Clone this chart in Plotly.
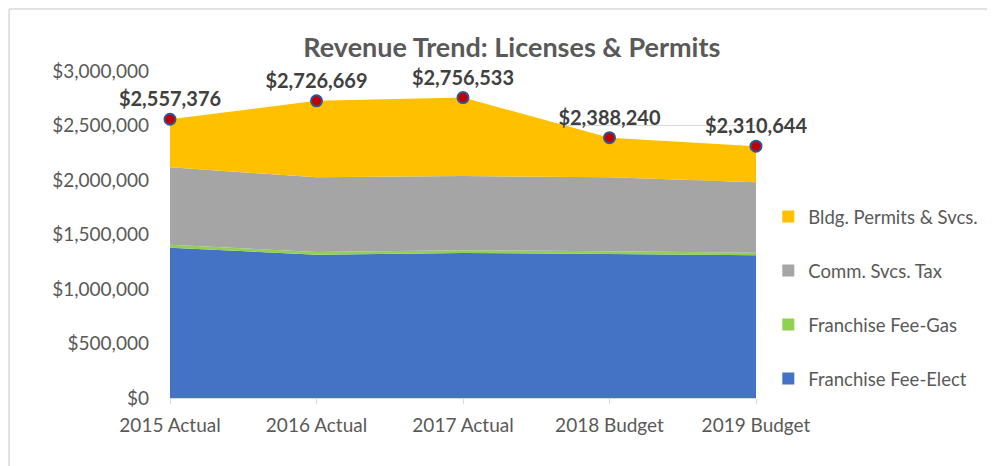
import plotly.graph_objects as go

years = ["2015 Actual", "2016 Actual", "2017 Actual", "2018 Budget", "2019 Budget"]
franchise_elect = [1379000, 1315000, 1330000, 1321000, 1309000]
franchise_gas = [26000, 24000, 25000, 25000, 24000]
comm_svcs_tax = [712000, 686000, 681000, 679000, 646000]
bldg_permits = [440376, 701669, 720533, 363240, 331644]
totals = [2557376, 2726669, 2756533, 2388240, 2310644]
y_ticks = [0, 500000, 1000000, 1500000, 2000000, 2500000, 3000000]
y_tick_labels = ["$0", "$500,000", "$1,000,000", "$1,500,000", "$2,000,000", "$2,500,000", "$3,000,000"]

series = [
    ("Franchise Fee-Elect", franchise_elect, "#4472c4"),
    ("Franchise Fee-Gas", franchise_gas, "#92d050"),
    ("Comm. Svcs. Tax", comm_svcs_tax, "#a5a5a5"),
    ("Bldg. Permits & Svcs.", bldg_permits, "#ffc000"),
]

FONT = "Lato, 'Open Sans', sans-serif"
fig = go.Figure()
for name, vals, col in series:
    fig.add_trace(go.Scatter(
        x=years, y=vals, name=name, stackgroup="s", mode="none",
        fillcolor=col, line=dict(width=0), showlegend=False,
        hoverinfo="x+y+name"))

# legend entries (square swatches), top to bottom
for name, vals, col in reversed(series):
    fig.add_trace(go.Scatter(
        x=[None], y=[None], name=name, mode="markers", legendgroup=name,
        marker=dict(symbol="square", size=12, color=col), showlegend=True))

fig.add_trace(go.Scatter(
    x=years, y=totals, mode="markers+text", showlegend=False,
    text=[f"${v:,.0f}" for v in totals], textposition="top center",
    textfont=dict(family=FONT, size=20, color="#404040", weight="bold"),
    marker=dict(size=11, color="#c00000", line=dict(color="#2f5597", width=2)),
    cliponaxis=False))

fig.update_layout(
    width=987, height=458,
    margin=dict(l=162, r=235, t=63, b=68),
    paper_bgcolor="white", plot_bgcolor="white",
    font=dict(family=FONT, color="#595959", size=19),
    title=dict(text="<b>Revenue Trend: Licenses & Permits</b>", x=0.5105, xanchor="center",
               y=0.914, yanchor="middle", font=dict(size=27, color="#595959", family=FONT)),
    legend=dict(x=1.021, xanchor="left", y=0.612, yanchor="top", traceorder="grouped",
                tracegroupgap=27, font=dict(size=18.5, color="#595959", family=FONT),
                itemwidth=30, bgcolor="rgba(0,0,0,0)"),
    xaxis=dict(type="category", range=[0, 4], showgrid=False, showline=True,
               linecolor="#d9d9d9", linewidth=1, ticks="outside", ticklen=5,
               tickcolor="#d9d9d9", tickfont=dict(size=19, color="#595959"),
               ticklabelstandoff=5, zeroline=False, fixedrange=True),
    yaxis=dict(range=[0, 3000000], tickvals=y_ticks, ticktext=y_tick_labels,
               showgrid=True, gridcolor="#d9d9d9", gridwidth=1, zeroline=False,
               showline=False, ticks="", ticklabelstandoff=20,
               tickfont=dict(size=19, color="#595959")),
    shapes=[
        dict(type="line", xref="paper", yref="paper", x0=-0.2746, x1=1.40, y0=1.1896, y1=1.1896,
             line=dict(color="#d9d9d9", width=1.5)),
        dict(type="line", xref="paper", yref="paper", x0=-0.2746, x1=-0.2746, y0=1.1896, y1=-0.21,
             line=dict(color="#d9d9d9", width=1.5)),
    ],
)

fig.write_html("out.html")
